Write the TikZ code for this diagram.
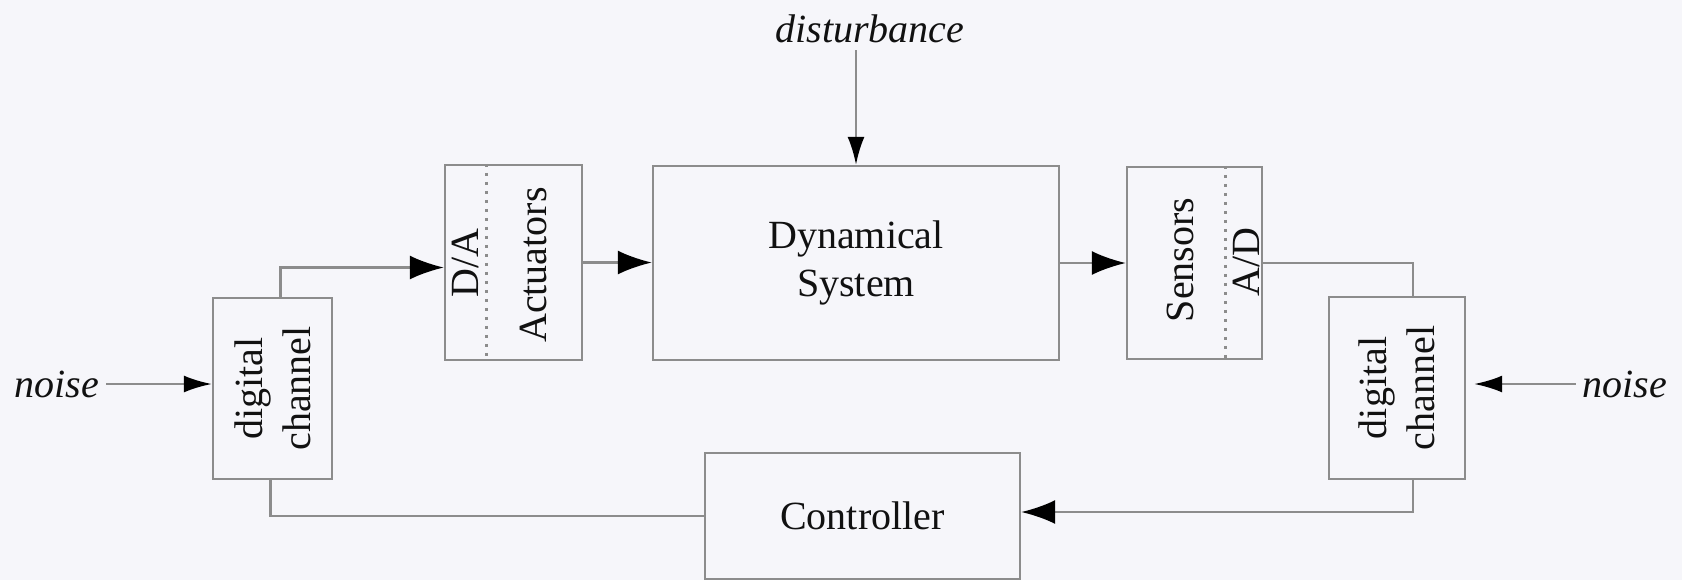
\documentclass[tikz,border=0pt]{standalone}
\usepackage{fontspec}
\setmainfont{Liberation Serif}
\usepackage{tikz}
\usetikzlibrary{positioning,calc,arrows.meta}
\definecolor{cBg}{HTML}{F6F6FA}
\definecolor{cLine}{HTML}{8C8C8C}
\definecolor{cInk}{HTML}{111111}
\tikzset{
  blk/.style={draw=cLine,line width=1.2pt,fill=none,inner sep=0pt,font=\fontsize{20}{24}\selectfont,text=cInk,align=center},
  vtxt/.style={rotate=90,align=center,font=\fontsize{20}{24}\selectfont,text=cInk,inner sep=0pt},
  sig/.style={font=\fontsize{20}{24}\selectfont\itshape,text=cInk},
  wire/.style={draw=cLine,line width=1.2pt},
  fwd/.style={wire,-{Latex[length=17pt,width=12pt,color=black]}},
  ext/.style={wire,-{Latex[length=14pt,width=8.5pt,color=black]}},
  divider/.style={draw=cLine,line width=1.2pt,dash pattern=on 1.5pt off 3pt},
}
\begin{document}
\begin{tikzpicture}[x=0.5pt,y=-0.5pt]
  \fill[cBg] (0,0) rectangle (1682,580);
  % plant chain
  \node[blk,minimum width=68.5pt,minimum height=97.5pt] (act) at (513.5,262.5) {};
  \node[blk,minimum width=203pt,minimum height=97pt] (dyn) at (856,263) {Dynamical\\System};
  \node[blk,minimum width=67.5pt,minimum height=96pt] (sen) at (1194.5,263) {};
  % channels and controller
  \node[blk,minimum width=59.5pt,minimum height=90.5pt] (chL) at (272.5,388.5) {};
  \node[blk,minimum width=68pt,minimum height=91pt] (chR) at (1397,388) {};
  \node[blk,minimum width=157.5pt,minimum height=63pt] (ctrl) at (862.5,516) {Controller};
  % texts in the boxes
  \draw[divider] ($(act.north west)!0.307!(act.north east)$) -- ($(act.south west)!0.307!(act.south east)$);
  \draw[divider] ($(sen.north west)!0.726!(sen.north east)$) -- ($(sen.south west)!0.726!(sen.south east)$);
  \node[vtxt] (da) at (465,263) {D/A};
  \node[vtxt] (actlbl) at (533,265) {Actuators};
  \node[vtxt] (senlbl) at (1180,260) {Sensors};
  \node[vtxt] (ad) at (1246,262) {A/D};
  \foreach \c in {chL,chR} \node[vtxt] at (\c) {digital\\channel};
  % outside signals
  \node[sig] (dist) at (870,29) {disturbance};
  \node[sig] (nzL) at (57,384) {noise};
  \node[sig] (nzR) at (1625,384) {noise};
  % connections
  \draw[fwd] ([xshift=4pt]chL.north) |- ([yshift=-2.5pt]act.west);
  \draw[fwd] (act.east) -- (act.east -| dyn.west);
  \draw[fwd] (dyn.east) -- (dyn.east -| sen.west);
  \draw[wire] (sen.east) -| ([xshift=8pt]chR.north);
  \draw[fwd] ([xshift=8pt]chR.south) |- ([yshift=2pt]ctrl.east);
  \draw[wire] ([xshift=-1pt]chL.south) |- (ctrl.west);
  \draw[ext] (dist.south -| dyn.north) -- (dyn.north);
  \draw[ext] (nzL.east) -- (nzL.east -| chL.west);
  \draw[ext,shorten >=4pt] (nzR.west) -- (nzR.west -| chR.east);
\end{tikzpicture}
\end{document}
